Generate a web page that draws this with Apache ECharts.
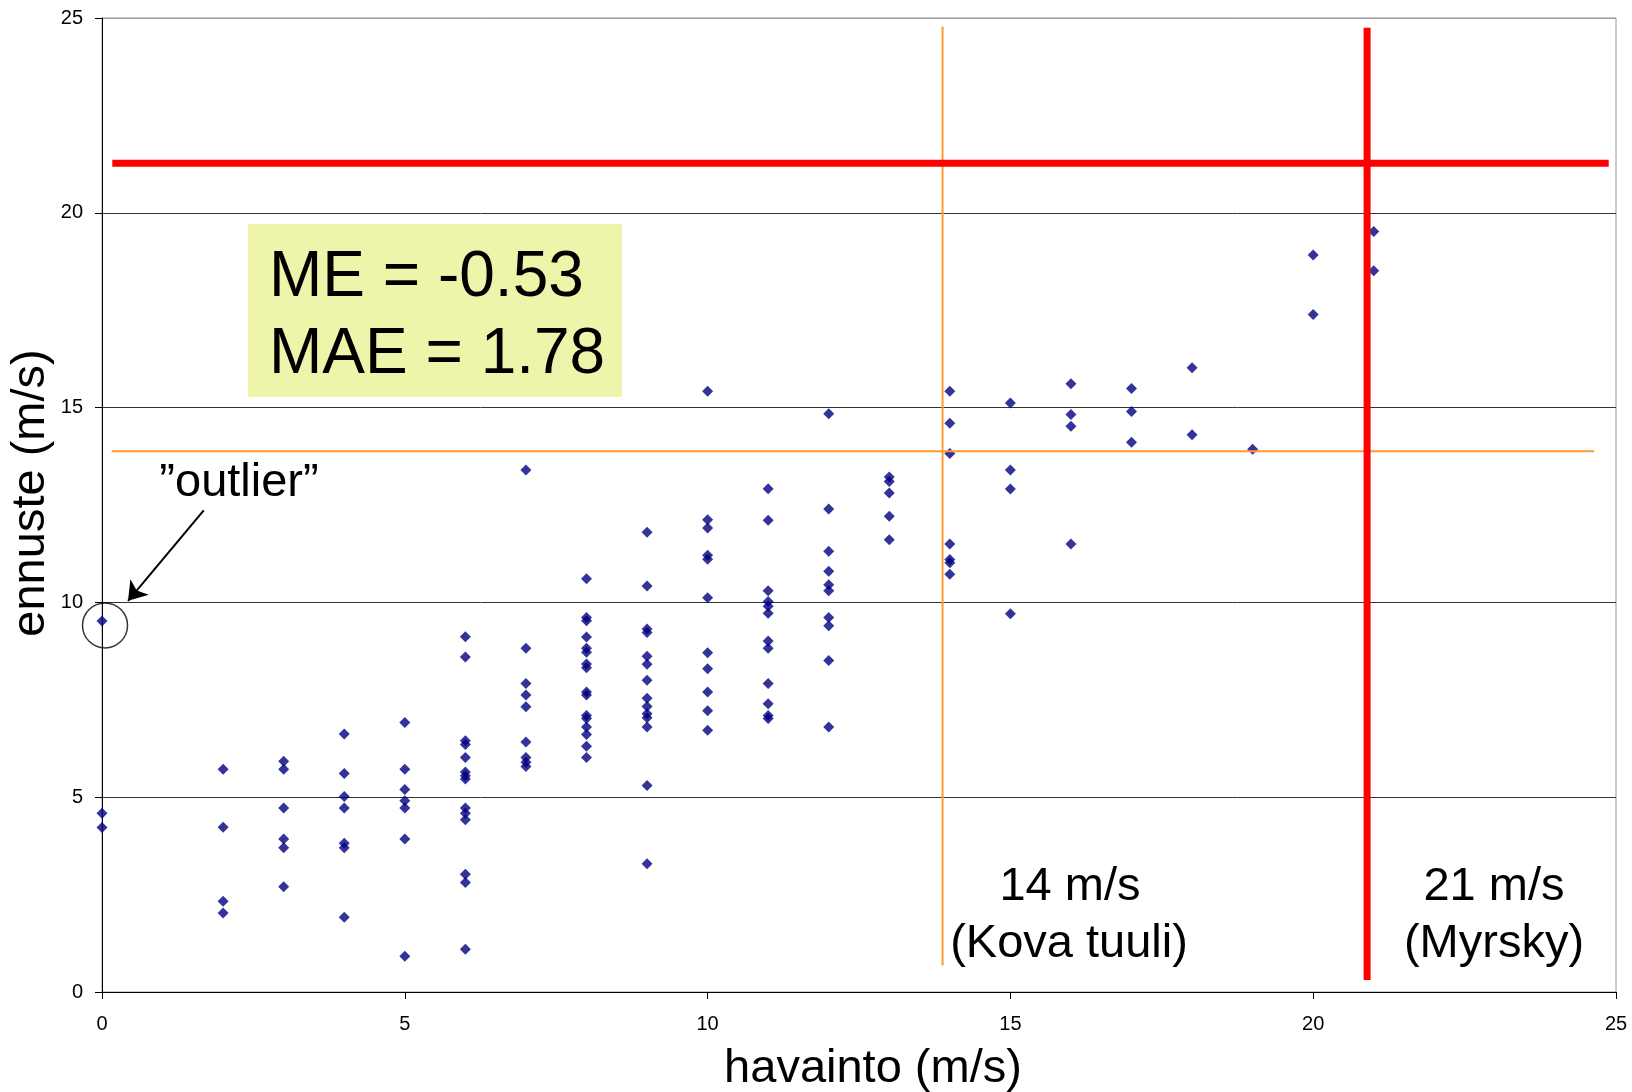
<!DOCTYPE html>
<html>
<head>
<meta charset="utf-8">
<title>havainto vs ennuste</title>
<script src="https://cdn.jsdelivr.net/npm/echarts@6/dist/echarts.min.js"></script>
<style>
  html, body { margin: 0; padding: 0; background: #fff; }
  #chart { width: 1632px; height: 1092px; }
</style>
</head>
<body>
<div id="chart"></div>
<script>
// observed wind speed (m/s), one entry per column of points
const obsLevels = [0, 2, 3, 4, 5, 6, 7, 8, 9, 10, 11, 12, 13, 14, 15, 16, 17, 18, 19, 20, 21]
// forecast values for each observed level (same order as obsLevels)
const forecasts = [
  [9.52, 4.59, 4.22],
  [5.72, 4.23, 2.33, 2.03],
  [5.92, 5.72, 4.72, 3.93, 3.70, 2.70],
  [6.62, 5.61, 5.02, 4.72, 3.82, 3.70, 1.92],
  [6.92, 5.72, 5.20, 4.91, 4.72, 3.93, 0.92],
  [9.12, 8.60, 6.45, 6.35, 6.02, 5.65, 5.55, 5.47, 4.72, 4.59, 4.42, 3.02, 2.81, 1.10],
  [13.40, 8.82, 7.92, 7.62, 7.32, 6.42, 6.02, 5.90, 5.79],
  [10.61, 9.61, 9.53, 9.11, 8.82, 8.72, 8.42, 8.32, 7.70, 7.62, 7.10, 7.02, 6.80, 6.61, 6.31, 6.02],
  [11.80, 10.42, 9.32, 9.23, 8.62, 8.41, 8.00, 7.54, 7.33, 7.14, 7.04, 6.80, 5.30, 3.29],
  [15.42, 12.12, 11.91, 11.21, 11.11, 10.12, 8.71, 8.30, 7.70, 7.22, 6.72],
  [12.92, 12.11, 10.30, 10.02, 9.90, 9.72, 9.01, 8.82, 7.92, 7.40, 7.10, 7.02],
  [14.84, 12.40, 11.31, 10.80, 10.45, 10.30, 9.61, 9.40, 8.51, 6.80],
  [13.22, 13.10, 12.81, 12.21, 11.61],
  [15.42, 14.60, 13.82, 11.50, 11.10, 11.02, 10.72],
  [15.12, 13.40, 12.91, 9.71],
  [15.61, 14.82, 14.52, 11.50],
  [15.49, 14.90, 14.11],
  [16.02, 14.30],
  [13.93],
  [18.92, 17.39],
  [19.52, 18.51]
]
const axisTicks = [0, 5, 10, 15, 20, 25]

// hand drawn threshold lines: 14 m/s (kova tuuli) and 21 m/s (myrsky)
const galeLineH = [[0.16, 13.88], [24.64, 13.88]]
const galeLineV = [[13.88, 24.78], [13.88, 0.68]]
const stormLineH = [[0.17, 21.27], [24.88, 21.27]]
const stormLineV = [[20.89, 24.75], [20.89, 0.31]]

// outlier annotation: ring around the point and the arrow pointing at it
const outlierRing = [[0.05, 9.41]]
const outlierArrow = [[1.68, 12.36], [0.43, 10.04]]

const statLines = ['ME = -0.53', 'MAE = 1.78']

const FONT = '"Liberation Sans", Arial, Helvetica, sans-serif'

const points = []
obsLevels.forEach((x, i) => {
  forecasts[i].forEach(y => points.push([x, y]))
})

function lineSeries(data, color, width) {
  return {
    type: 'line',
    data: data,
    symbol: 'none',
    silent: true,
    z: 4,
    lineStyle: { color: color, width: width, cap: 'butt' }
  }
}

function bigText(text, x, y) {
  return {
    type: 'text',
    x: x,
    y: y,
    z: 20,
    style: {
      text: text,
      font: '47px ' + FONT,
      fill: '#000',
      align: 'center',
      verticalAlign: 'middle'
    }
  }
}

const chart = echarts.init(document.getElementById('chart'), null, { renderer: 'canvas' })

const valueAxis = {
  type: 'value',
  min: axisTicks[0],
  max: axisTicks[axisTicks.length - 1],
  interval: 5,
  axisLine: { show: true, onZero: false, lineStyle: { color: '#000', width: 1 } },
  axisTick: { show: true, inside: false, length: 7, lineStyle: { color: '#000' } },
  axisLabel: { color: '#000', fontSize: 20, fontFamily: FONT },
  nameLocation: 'middle',
  nameMoveOverlap: false,
  nameTextStyle: { color: '#000', fontSize: 47, fontFamily: FONT }
}

chart.setOption({
  animation: false,
  backgroundColor: '#fff',
  grid: {
    left: 102,
    right: 16,
    top: 18,
    bottom: 100,
    containLabel: false,
    outerBoundsMode: 'none',
    show: true,
    borderColor: '#999',
    borderWidth: 1,
    backgroundColor: 'transparent'
  },
  xAxis: Object.assign({}, valueAxis, {
    name: 'havainto (m/s)',
    nameGap: 54,
    nameTextStyle: Object.assign({}, valueAxis.nameTextStyle, { padding: [0, 0, 0, 28] }),
    axisLabel: Object.assign({}, valueAxis.axisLabel, { margin: 22 }),
    splitLine: { show: false }
  }),
  yAxis: Object.assign({}, valueAxis, {
    name: 'ennuste (m/s)',
    nameGap: 47,
    nameTextStyle: Object.assign({}, valueAxis.nameTextStyle, { padding: [0, 0, 0, 24] }),
    axisLabel: Object.assign({}, valueAxis.axisLabel, { margin: 19 }),
    splitLine: {
      show: true,
      lineStyle: { color: ['#000', '#333', '#333', '#333', '#333', '#999'], width: 1 }
    }
  }),
  series: [
    {
      name: 'ennuste',
      type: 'scatter',
      data: points,
      symbol: 'diamond',
      symbolSize: 11,
      z: 3,
      itemStyle: { color: '#000080' }
    },
    lineSeries(galeLineH, '#FF9933', 2),
    lineSeries(galeLineV, '#FF9933', 2),
    lineSeries(stormLineH, '#FF0000', 7),
    lineSeries(stormLineV, '#FF0000', 7),
    {
      type: 'scatter',
      data: outlierRing,
      symbol: 'circle',
      symbolSize: 45,
      silent: true,
      z: 5,
      itemStyle: { color: 'transparent', borderColor: '#000', borderWidth: 1.5 }
    },
    {
      type: 'lines',
      coordinateSystem: 'cartesian2d',
      silent: true,
      z: 5,
      symbol: ['none', 'arrow'],
      symbolSize: [0, 18],
      lineStyle: { color: '#000', width: 2, opacity: 1, curveness: 0 },
      data: [{ coords: outlierArrow }]
    }
  ],
  graphic: [
    {
      type: 'rect',
      x: 248,
      y: 224,
      z: 10,
      shape: { width: 374, height: 173 },
      style: { fill: '#EEF5AA' }
    },
    {
      type: 'text',
      x: 269,
      y: 278,
      z: 11,
      style: { text: statLines[0], font: '64px ' + FONT, fill: '#000', align: 'left', verticalAlign: 'middle' }
    },
    {
      type: 'text',
      x: 269,
      y: 355,
      z: 11,
      style: { text: statLines[1], font: '64px ' + FONT, fill: '#000', align: 'left', verticalAlign: 'middle' }
    },
    bigText('\u201Doutlier\u201D', 239, 483),
    bigText('14 m/s', 1070, 887),
    bigText('(Kova tuuli)', 1069, 944),
    bigText('21 m/s', 1494, 887),
    bigText('(Myrsky)', 1494, 944)
  ]
})
</script>
</body>
</html>
